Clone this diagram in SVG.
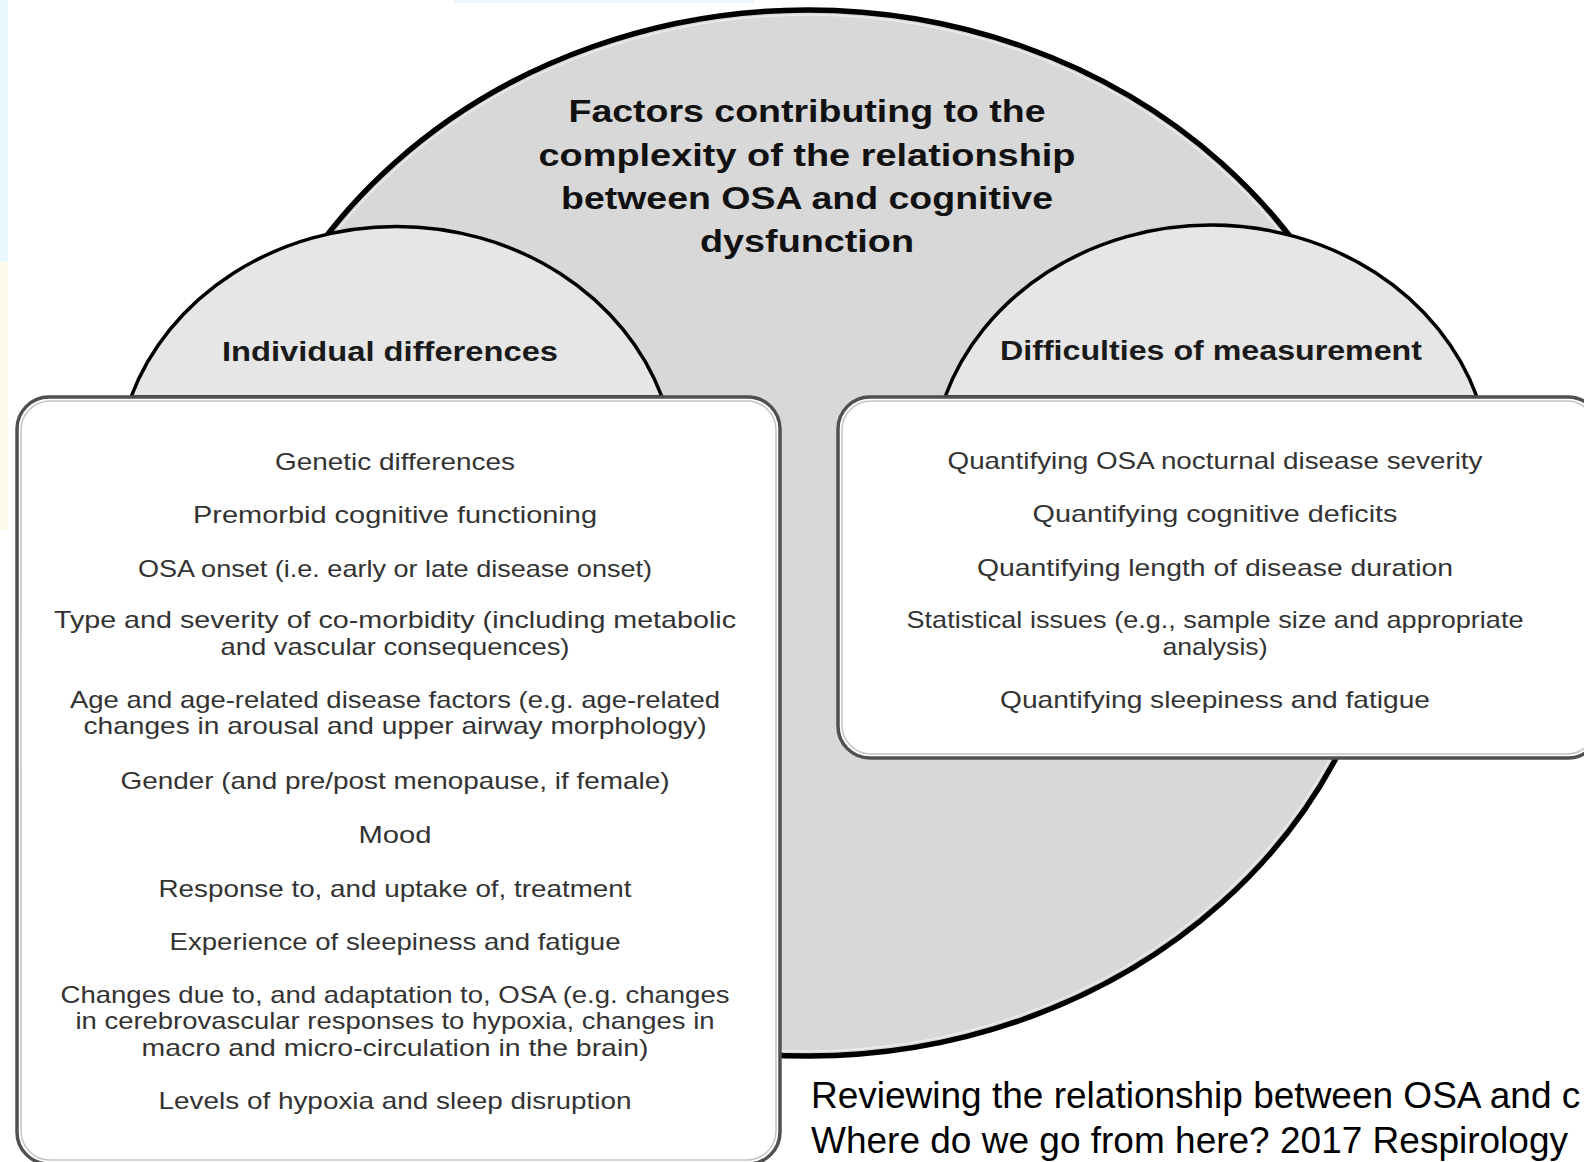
<svg xmlns="http://www.w3.org/2000/svg" width="1584" height="1162" viewBox="0 0 1584 1162">
<style>
.title{font-family:"Liberation Sans","Open Sans",Arial,sans-serif;font-weight:bold;font-size:32px;fill:#111;text-anchor:middle}
.dome-label{font-family:"Liberation Sans","Open Sans",Arial,sans-serif;font-weight:bold;font-size:28px;fill:#1a1a1a;text-anchor:middle}
.item{font-family:"Liberation Sans","Open Sans",Arial,sans-serif;font-size:24px;fill:#333;text-anchor:middle}
.caption{font-family:"Liberation Sans",Arial,sans-serif;font-size:37px;fill:#000}
.dome{fill:#e6e6e6;stroke:#000;stroke-width:3.5}
.box{fill:#fff;stroke:#505050;stroke-width:3.5}
.box-inner{fill:none;stroke:#c4c4c4;stroke-width:1.5}
</style>
<rect width="1584" height="1162" fill="#fff"/>
<rect x="0" y="0" width="8" height="262" fill="#eaf7fd"/>
<rect x="0" y="262" width="8" height="268" fill="#fdfbea"/>
<rect x="454" y="0" width="300" height="3" fill="#eaf7fd"/>

<g id="main-factor">
  <ellipse cx="808" cy="533" rx="585" ry="523" fill="#d8d8d8" stroke="#000" stroke-width="5.5"/>
  <ellipse cx="808" cy="533" rx="580" ry="518" fill="none" stroke="#ececec" stroke-width="1.5"/>
  <text class="title" x="807" y="122" textLength="477" lengthAdjust="spacingAndGlyphs">Factors contributing to the</text>
  <text class="title" x="807" y="166" textLength="537" lengthAdjust="spacingAndGlyphs">complexity of the relationship</text>
  <text class="title" x="807" y="209" textLength="492" lengthAdjust="spacingAndGlyphs">between OSA and cognitive</text>
  <text class="title" x="807" y="252" textLength="214" lengthAdjust="spacingAndGlyphs">dysfunction</text>
</g>

<g id="individual-differences">
  <path class="dome" d="M 131 397 A 280 250 0 0 1 662 397 Z"/>
  <text class="dome-label" x="390" y="361" textLength="336" lengthAdjust="spacingAndGlyphs">Individual differences</text>
  <rect class="box" x="17" y="397" width="763" height="767" rx="32"/>
  <rect class="box-inner" x="21" y="401" width="755" height="759" rx="29"/>
  <text class="item" x="395" y="470" textLength="240" lengthAdjust="spacingAndGlyphs">Genetic differences</text>
  <text class="item" x="395" y="523" textLength="404" lengthAdjust="spacingAndGlyphs">Premorbid cognitive functioning</text>
  <text class="item" x="395" y="577" textLength="514" lengthAdjust="spacingAndGlyphs">OSA onset (i.e.  early or late disease onset)</text>
  <text class="item" x="395" y="628" textLength="682" lengthAdjust="spacingAndGlyphs">Type and severity of co-morbidity (including metabolic</text>
  <text class="item" x="395" y="655" textLength="349" lengthAdjust="spacingAndGlyphs">and vascular consequences)</text>
  <text class="item" x="395" y="708" textLength="650" lengthAdjust="spacingAndGlyphs">Age and age-related disease factors (e.g. age-related</text>
  <text class="item" x="395" y="734" textLength="623" lengthAdjust="spacingAndGlyphs">changes in arousal and upper airway morphology)</text>
  <text class="item" x="395" y="789" textLength="549" lengthAdjust="spacingAndGlyphs">Gender (and pre/post menopause, if female)</text>
  <text class="item" x="395" y="843" textLength="73" lengthAdjust="spacingAndGlyphs">Mood</text>
  <text class="item" x="395" y="897" textLength="473" lengthAdjust="spacingAndGlyphs">Response to, and uptake of, treatment</text>
  <text class="item" x="395" y="950" textLength="451" lengthAdjust="spacingAndGlyphs">Experience of sleepiness and fatigue</text>
  <text class="item" x="395" y="1003" textLength="669" lengthAdjust="spacingAndGlyphs">Changes due to, and adaptation to, OSA (e.g. changes</text>
  <text class="item" x="395" y="1029" textLength="639" lengthAdjust="spacingAndGlyphs">in cerebrovascular responses to hypoxia, changes in</text>
  <text class="item" x="395" y="1056" textLength="507" lengthAdjust="spacingAndGlyphs">macro and micro-circulation in the brain)</text>
  <text class="item" x="395" y="1109" textLength="473" lengthAdjust="spacingAndGlyphs">Levels of hypoxia and sleep disruption</text>
</g>

<g id="difficulties-of-measurement">
  <path class="dome" d="M 945 397 A 280 250 0 0 1 1477 397 Z"/>
  <text class="dome-label" x="1211" y="360" textLength="422" lengthAdjust="spacingAndGlyphs">Difficulties of measurement</text>
  <rect class="box" x="838" y="397" width="762" height="361" rx="32"/>
  <rect class="box-inner" x="842" y="401" width="754" height="353" rx="29"/>
  <text class="item" x="1215" y="469" textLength="535" lengthAdjust="spacingAndGlyphs">Quantifying OSA nocturnal disease severity</text>
  <text class="item" x="1215" y="522" textLength="365" lengthAdjust="spacingAndGlyphs">Quantifying cognitive deficits</text>
  <text class="item" x="1215" y="576" textLength="476" lengthAdjust="spacingAndGlyphs">Quantifying length of disease duration</text>
  <text class="item" x="1215" y="628" textLength="617" lengthAdjust="spacingAndGlyphs">Statistical issues (e.g., sample size and appropriate</text>
  <text class="item" x="1215" y="655" textLength="105" lengthAdjust="spacingAndGlyphs">analysis)</text>
  <text class="item" x="1215" y="708" textLength="430" lengthAdjust="spacingAndGlyphs">Quantifying sleepiness and fatigue</text>
</g>

<g id="caption">
  <text class="caption" x="811" y="1108">Reviewing the relationship between OSA and c</text>
  <text class="caption" x="811" y="1153" textLength="757" lengthAdjust="spacingAndGlyphs">Where do we go from here? 2017 Respirology</text>
</g>
<g id="connectors"></g>
</svg>
